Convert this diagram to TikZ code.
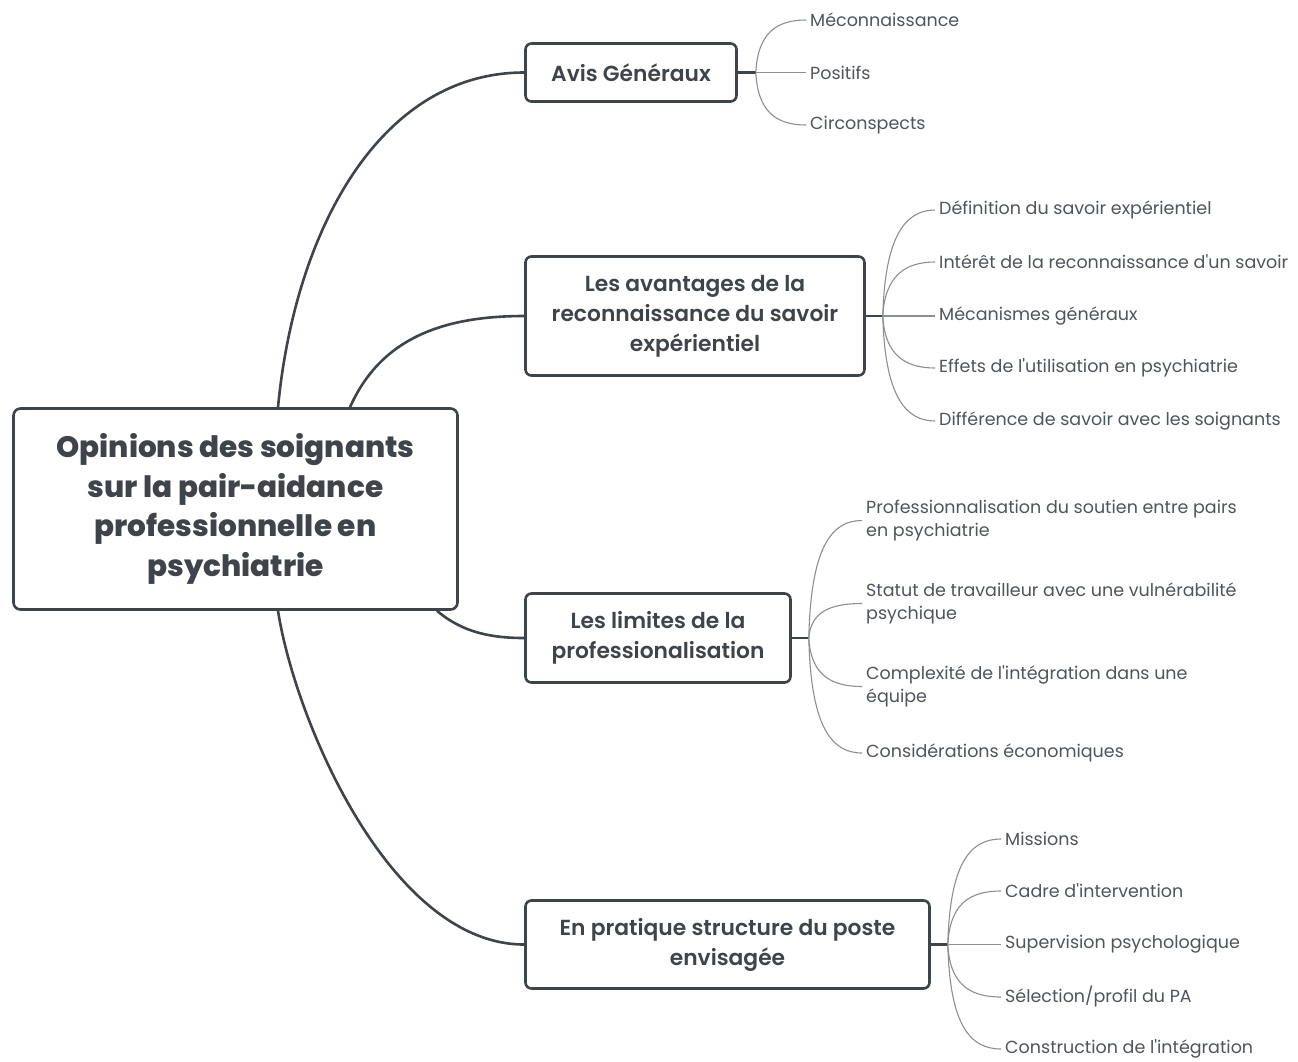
\documentclass[tikz,border=0pt]{standalone}
\usepackage{fontspec}
\setmainfont{Poppins}
\newfontfamily\topicfont{Poppins SemiBold}
\newfontfamily\rootfont{Poppins ExtraBold}
\usepackage{tikz}
\definecolor{inkdark}{HTML}{3F444A}
\definecolor{inkleaf}{HTML}{50555B}
\definecolor{lineleaf}{HTML}{8C8F93}
\newcommand{\apos}{\textquotesingle}
\tikzset{
  rootbox/.style={draw=inkdark, line width=2.6pt, rounded corners=7pt, fill=white,
    align=center, text=inkdark, font=\fontsize{29.5}{39.5}\rootfont,
    minimum width=444pt, minimum height=201pt},
  topicbox/.style={draw=inkdark, line width=2.6pt, rounded corners=6pt, fill=white,
    align=center, text=inkdark, font=\fontsize{21.8}{30}\topicfont},
  leaf/.style={anchor=west, inner sep=4pt, align=left, text=inkleaf,
    font=\fontsize{17.5}{23}\selectfont},
  mainline/.style={draw=inkdark, line width=2.6pt},
  leafline/.style={draw=lineleaf, line width=1.1pt},
}

\begin{document}
\begin{tikzpicture}[x=1pt,y=-1pt]
\useasboundingbox[fill=white] (0,0) rectangle (1298,1061);

% central topic
\node[rootbox] (root) at (235.5,509) {Opinions des soignants\\sur la pair-aidance\\professionnelle en\\psychiatrie};

% main topics
\node[topicbox, minimum width=211pt, minimum height=58pt] (avis) at (631,72.5) {Avis Généraux};
\node[topicbox, minimum width=339pt, minimum height=119pt] (avant) at (695,316) {Les avantages de la\\reconnaissance du savoir\\expérientiel};
\node[topicbox, minimum width=265pt, minimum height=89pt] (limit) at (658,638) {Les limites de la\\professionalisation};
\node[topicbox, minimum width=404pt, minimum height=88pt] (prat) at (727.5,944.5) {En pratique structure du poste\\envisagée};

\draw[mainline] ([xshift=42.5pt]root.north) .. controls (295,230) and (380,72.5) .. (avis.west);
\draw[mainline] ([xshift=114.5pt]root.north) .. controls (380,340) and (440,316) .. (avant.west);
\draw[mainline] ([xshift=201.5pt]root.south) .. controls (462,632) and (490,638) .. (limit.west);
\draw[mainline] ([xshift=42.5pt]root.south) .. controls (295,720) and (390,944.5) .. (prat.west);

% junctions
\coordinate (javis) at ([xshift=18pt]avis.east);
\coordinate (javant) at ([xshift=17pt]avant.east);
\coordinate (jlimit) at ([xshift=17pt]limit.east);
\coordinate (jprat) at ([xshift=17pt]prat.east);
\draw[mainline] (avis.east) -- (javis);
\draw[mainline] (avant.east) -- (javant);
\draw[mainline] (limit.east) -- (jlimit);
\draw[mainline] (prat.east) -- (jprat);

% Avis Généraux
\node[leaf] (avis1) at (806,20) {Méconnaissance};
\node[leaf] (avis2) at (806,72.5) {Positifs};
\node[leaf] (avis3) at (806,125) {Circonspects};
\draw[leafline] (javis) .. controls +(2,-39) and +(-30,0) .. (avis1.west);
\draw[leafline] (javis) -- (avis2.west);
\draw[leafline] (javis) .. controls +(2,39) and +(-30,0) .. (avis3.west);

% savoir experientiel
\node[leaf] (avant1) at (935,210) {Définition du savoir expérientiel};
\node[leaf] (avant2) at (935,262) {Intérêt de la reconnaissance d\apos un savoir};
\node[leaf] (avant3) at (935,316) {Mécanismes généraux};
\node[leaf] (avant4) at (935,368) {Effets de l\apos utilisation en psychiatrie};
\node[leaf] (avant5) at (935,421) {Différence de savoir avec les soignants};
\draw[leafline] (javant) .. controls +(2,-79) and +(-30,0) .. (avant1.west);
\draw[leafline] (javant) .. controls +(2,-40) and +(-30,0) .. (avant2.west);
\draw[leafline] (javant) -- (avant3.west);
\draw[leafline] (javant) .. controls +(2,39) and +(-30,0) .. (avant4.west);
\draw[leafline] (javant) .. controls +(2,79) and +(-30,0) .. (avant5.west);

% limites
\node[leaf] (limit1) at (862,520.5) {Professionnalisation du soutien entre pairs\\en psychiatrie};
\node[leaf] (limit2) at (862,603.5) {Statut de travailleur avec une vulnérabilité\\psychique};
\node[leaf] (limit3) at (862,686.5) {Complexité de l\apos intégration dans une\\équipe};
\node[leaf] (limit4) at (862,753) {Considérations économiques};
\draw[leafline] (jlimit) .. controls +(2,-88) and +(-32,0) .. (limit1.west);
\draw[leafline] (jlimit) .. controls +(2,-26) and +(-32,0) .. (limit2.west);
\draw[leafline] (jlimit) .. controls +(2,36) and +(-32,0) .. (limit3.west);
\draw[leafline] (jlimit) .. controls +(2,86) and +(-32,0) .. (limit4.west);

% en pratique
\node[leaf] (prat1) at (1001,839) {Missions};
\node[leaf] (prat2) at (1001,891) {Cadre d\apos intervention};
\node[leaf] (prat3) at (1001,944.5) {Supervision psychologique};
\node[leaf] (prat4) at (1001,997) {Sélection/profil du PA};
\node[leaf] (prat5) at (1001,1049) {Construction de l\apos intégration};
\draw[leafline] (jprat) .. controls +(2,-79) and +(-32,0) .. (prat1.west);
\draw[leafline] (jprat) .. controls +(2,-40) and +(-32,0) .. (prat2.west);
\draw[leafline] (jprat) -- (prat3.west);
\draw[leafline] (jprat) .. controls +(2,39) and +(-32,0) .. (prat4.west);
\draw[leafline] (jprat) .. controls +(2,79) and +(-32,0) .. (prat5.west);
\end{tikzpicture}
\end{document}
